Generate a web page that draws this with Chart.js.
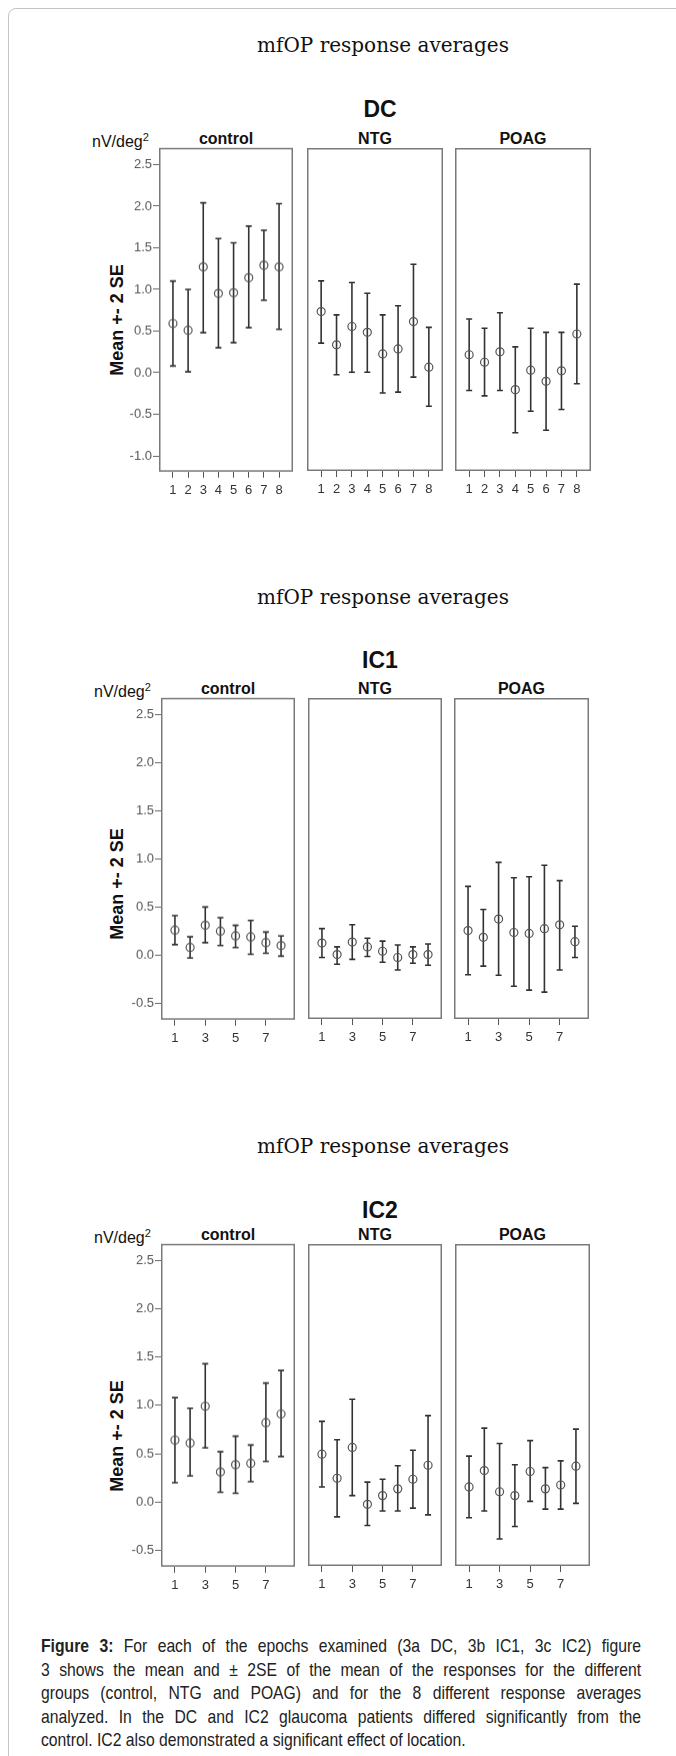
<!DOCTYPE html>
<html>
<head>
<meta charset="utf-8">
<script src="https://cdn.jsdelivr.net/npm/chart.js@4.4.0/dist/chart.umd.min.js"></script>
<style>
  body { margin: 0; width: 676px; height: 1756px; position: relative; overflow: hidden; background: #fff; font-family: Arial, "Liberation Sans", sans-serif; color: #111; }
  .frame { position: absolute; left: 8px; top: 8px; width: 720px; height: 1800px; border: 1px solid #c4c4c4; border-radius: 8px; }
  .t { position: absolute; white-space: nowrap; transform: translate(-50%, -50%); }
  .main { font-family: "DejaVu Serif", "Liberation Serif", serif; font-size: 20px; color: #111; }
  .fig { font-weight: bold; font-size: 23px; }
  .grp { font-weight: bold; font-size: 16px; }
  .unit { position: absolute; font-size: 16px; white-space: nowrap; }
  .ylab { position: absolute; font-weight: bold; font-size: 18px; white-space: nowrap; transform: translate(-50%, -50%) rotate(-90deg); }
  canvas { position: absolute; }
  .caption { position: absolute; left: 41px; top: 1634px; width: 706px; font-size: 18.5px; line-height: 23.5px; color: #222; transform: scaleX(0.85); transform-origin: 0 0; }
  .caption div { text-align: justify; text-align-last: justify; white-space: nowrap; }
  .caption div:last-child { text-align-last: left; }
</style>
</head>
<body>
<div class="frame"></div>
<div id="labels"></div>
<div class="caption">
  <div><b>Figure 3:</b> For each of the epochs examined (3a DC, 3b IC1, 3c IC2) figure</div>
  <div>3 shows the mean and ± 2SE of the mean of the responses for the different</div>
  <div>groups (control, NTG and POAG) and for the 8 different response averages</div>
  <div>analyzed. In the DC and IC2 glaucoma patients differed significantly from the</div>
  <div>control. IC2 also demonstrated a significant effect of location.</div>
</div>
<script>
// response averages 1..8
const epochs = [1, 2, 3, 4, 5, 6, 7, 8];
const groups = ['control', 'NTG', 'POAG'];
const dcYTicks = [-1.0, -0.5, 0.0, 0.5, 1.0, 1.5, 2.0, 2.5];
const icYTicks = [-0.5, 0.0, 0.5, 1.0, 1.5, 2.0, 2.5];
const dcXTicks = [1, 2, 3, 4, 5, 6, 7, 8];
const icXTicks = [1, 3, 5, 7];

// DC
const dcControlMean = [0.59, 0.51, 1.27, 0.95, 0.96, 1.14, 1.29, 1.27];
const dcControlHi   = [1.10, 1.00, 2.04, 1.61, 1.56, 1.76, 1.71, 2.03];
const dcControlLo   = [0.08, 0.01, 0.48, 0.30, 0.36, 0.54, 0.87, 0.52];
const dcNtgMean = [0.73, 0.33, 0.55, 0.48, 0.22, 0.28, 0.61, 0.06];
const dcNtgHi   = [1.10, 0.69, 1.08, 0.95, 0.69, 0.80, 1.30, 0.54];
const dcNtgLo   = [0.35, -0.03, 0.00, 0.00, -0.25, -0.24, -0.06, -0.41];
const dcPoagMean = [0.21, 0.12, 0.245, -0.21, 0.024, -0.11, 0.016, 0.46];
const dcPoagHi   = [0.64, 0.53, 0.715, 0.305, 0.53, 0.48, 0.48, 1.06];
const dcPoagLo   = [-0.22, -0.285, -0.22, -0.73, -0.47, -0.70, -0.45, -0.14];

// IC1
const ic1ControlMean = [0.26, 0.08, 0.31, 0.25, 0.20, 0.19, 0.13, 0.10];
const ic1ControlHi   = [0.41, 0.19, 0.50, 0.39, 0.31, 0.36, 0.24, 0.20];
const ic1ControlLo   = [0.11, -0.03, 0.13, 0.10, 0.08, 0.01, 0.02, -0.01];
const ic1NtgMean = [0.12, 0.00, 0.13, 0.08, 0.035, -0.03, 0.00, 0.00];
const ic1NtgHi   = [0.27, 0.08, 0.31, 0.17, 0.14, 0.10, 0.08, 0.11];
const ic1NtgLo   = [-0.03, -0.10, -0.05, -0.02, -0.08, -0.16, -0.09, -0.11];
const ic1PoagMean = [0.25, 0.18, 0.37, 0.23, 0.22, 0.27, 0.31, 0.135];
const ic1PoagHi   = [0.71, 0.47, 0.96, 0.80, 0.81, 0.93, 0.77, 0.295];
const ic1PoagLo   = [-0.21, -0.12, -0.215, -0.33, -0.37, -0.39, -0.16, -0.03];

// IC2
const ic2ControlMean = [0.64, 0.61, 0.99, 0.31, 0.385, 0.40, 0.82, 0.91];
const ic2ControlHi   = [1.08, 0.97, 1.43, 0.52, 0.68, 0.59, 1.23, 1.36];
const ic2ControlLo   = [0.20, 0.27, 0.56, 0.10, 0.09, 0.21, 0.42, 0.47];
const ic2NtgMean = [0.49, 0.24, 0.56, -0.03, 0.06, 0.13, 0.23, 0.375];
const ic2NtgHi   = [0.83, 0.64, 1.06, 0.20, 0.23, 0.37, 0.53, 0.89];
const ic2NtgLo   = [0.15, -0.16, 0.06, -0.25, -0.10, -0.10, -0.07, -0.14];
const ic2PoagMean = [0.15, 0.32, 0.10, 0.06, 0.31, 0.13, 0.17, 0.365];
const ic2PoagHi   = [0.47, 0.76, 0.60, 0.38, 0.63, 0.35, 0.42, 0.75];
const ic2PoagLo   = [-0.17, -0.10, -0.39, -0.26, 0.00, -0.08, -0.08, -0.02];

// page layout for the three figures
const figs = [
  { name: 'DC', titleY: 45, nameY: 109, labY: 320, top: 148, bottom: 471,
    lefts: [159, 307, 455], rights: [293, 443, 591], yMin: -1.19, yMax: 2.70,
    yTicks: dcYTicks, xTicks: dcXTicks,
    series: [[dcControlMean, dcControlHi, dcControlLo], [dcNtgMean, dcNtgHi, dcNtgLo], [dcPoagMean, dcPoagHi, dcPoagLo]] },
  { name: 'IC1', titleY: 597, nameY: 660, labY: 884, top: 698, bottom: 1019,
    lefts: [161, 308, 454], rights: [295, 442, 589], yMin: -0.67, yMax: 2.67,
    yTicks: icYTicks, xTicks: icXTicks,
    series: [[ic1ControlMean, ic1ControlHi, ic1ControlLo], [ic1NtgMean, ic1NtgHi, ic1NtgLo], [ic1PoagMean, ic1PoagHi, ic1PoagLo]] },
  { name: 'IC2', titleY: 1146, nameY: 1210, labY: 1436, top: 1244, bottom: 1566,
    lefts: [161, 308, 455], rights: [295, 442, 590], yMin: -0.67, yMax: 2.67,
    yTicks: icYTicks, xTicks: icXTicks,
    series: [[ic2ControlMean, ic2ControlHi, ic2ControlLo], [ic2NtgMean, ic2NtgHi, ic2NtgLo], [ic2PoagMean, ic2PoagHi, ic2PoagLo]] }
];

// error bars + panel box
function errorBars(hi, lo) {
  return {
    id: 'errorBars',
    beforeDatasetsDraw(chart) {
      const { ctx, scales: { x, y } } = chart;
      ctx.save();
      ctx.strokeStyle = '#333';
      ctx.lineWidth = 1.6;
      epochs.forEach((e, i) => {
        const px = x.getPixelForValue(e);
        const pt = y.getPixelForValue(hi[i]);
        const pb = y.getPixelForValue(lo[i]);
        ctx.beginPath();
        ctx.moveTo(px, pt); ctx.lineTo(px, pb);
        ctx.moveTo(px - 3, pt); ctx.lineTo(px + 3, pt);
        ctx.moveTo(px - 3, pb); ctx.lineTo(px + 3, pb);
        ctx.stroke();
      });
      ctx.restore();
    },
    afterDraw(chart) {
      const { ctx, chartArea: a } = chart;
      ctx.save();
      ctx.strokeStyle = '#7a7a7a';
      ctx.lineWidth = 1.5;
      ctx.strokeRect(a.left + 0.75, a.top + 0.75, a.right - a.left - 1.5, a.bottom - a.top - 1.5);
      ctx.restore();
    }
  };
}

function makePanel(fig, g) {
  const [mean, hi, lo] = fig.series[g];
  const axisW = g === 0 ? 60 : 0;
  const axisH = 36;
  const left = fig.lefts[g], right = fig.rights[g];
  const canvas = document.createElement('canvas');
  canvas.width = right - left + axisW;
  canvas.height = fig.bottom - fig.top + axisH;
  document.body.appendChild(canvas);

  const chart = new Chart(canvas, {
    type: 'scatter',
    data: {
      datasets: [{
        data: mean.map((m, i) => ({ x: epochs[i], y: m })),
        pointRadius: 4,
        pointBorderWidth: 1.2,
        pointBorderColor: '#555',
        pointBackgroundColor: 'rgba(255,255,255,0)'
      }]
    },
    options: {
      responsive: false,
      maintainAspectRatio: false,
      animation: false,
      events: [],
      layout: { padding: 0, autoPadding: false },
      plugins: { legend: { display: false }, tooltip: { enabled: false } },
      scales: {
        x: {
          type: 'linear', min: 0.08, max: 8.92,
          afterBuildTicks: s => { s.ticks = fig.xTicks.map(v => ({ value: v })); },
          afterFit: s => { s.height = axisH; },
          grid: { drawOnChartArea: false, tickLength: 6, color: '#555' },
          border: { display: false },
          ticks: { color: '#333', font: { size: 13, family: 'Arial' }, padding: 5, maxRotation: 0, autoSkip: false }
        },
        y: {
          display: g === 0,
          min: fig.yMin, max: fig.yMax,
          afterBuildTicks: s => { s.ticks = fig.yTicks.map(v => ({ value: v })); },
          afterFit: s => { s.width = axisW; },
          grid: { drawOnChartArea: false, tickLength: 6, color: '#666' },
          border: { display: false },
          ticks: { color: '#555', font: { size: 13, family: 'Arial' }, padding: 1, callback: v => v.toFixed(1) }
        }
      }
    },
    plugins: [errorBars(hi, lo)]
  });

  // the library pads the plot for tick labels; grow the canvas so the plot box gets the wanted size
  const a = chart.chartArea;
  const dw = (right - left) - (a.right - a.left);
  const dh = (fig.bottom - fig.top) - (a.bottom - a.top);
  if (dw || dh) chart.resize(canvas.width + dw, canvas.height + dh);
  const b = chart.chartArea;
  canvas.style.left = (left - b.left) + 'px';
  canvas.style.top = (fig.top - b.top) + 'px';
}

// text labels
const labels = document.getElementById('labels');
function addText(cls, txt, x, y) {
  const d = document.createElement('div');
  d.className = cls;
  d.innerHTML = txt;
  d.style.left = x + 'px';
  d.style.top = y + 'px';
  labels.appendChild(d);
}

figs.forEach(fig => {
  addText('t main', 'mfOP response averages', 383, fig.titleY);
  addText('t fig', fig.name, 380, fig.nameY);
  groups.forEach((g, i) => {
    addText('t grp', g, (fig.lefts[i] + fig.rights[i]) / 2, fig.top - 9);
    makePanel(fig, i);
  });
  const u = document.createElement('div');
  u.className = 'unit';
  u.innerHTML = 'nV/deg<sup style="font-size:11px">2</sup>';
  u.style.left = (fig.lefts[0] - 67) + 'px';
  u.style.top = (fig.top - 17) + 'px';
  labels.appendChild(u);
  addText('ylab', 'Mean +- 2 SE', 117, fig.labY);
});
</script>
</body>
</html>
